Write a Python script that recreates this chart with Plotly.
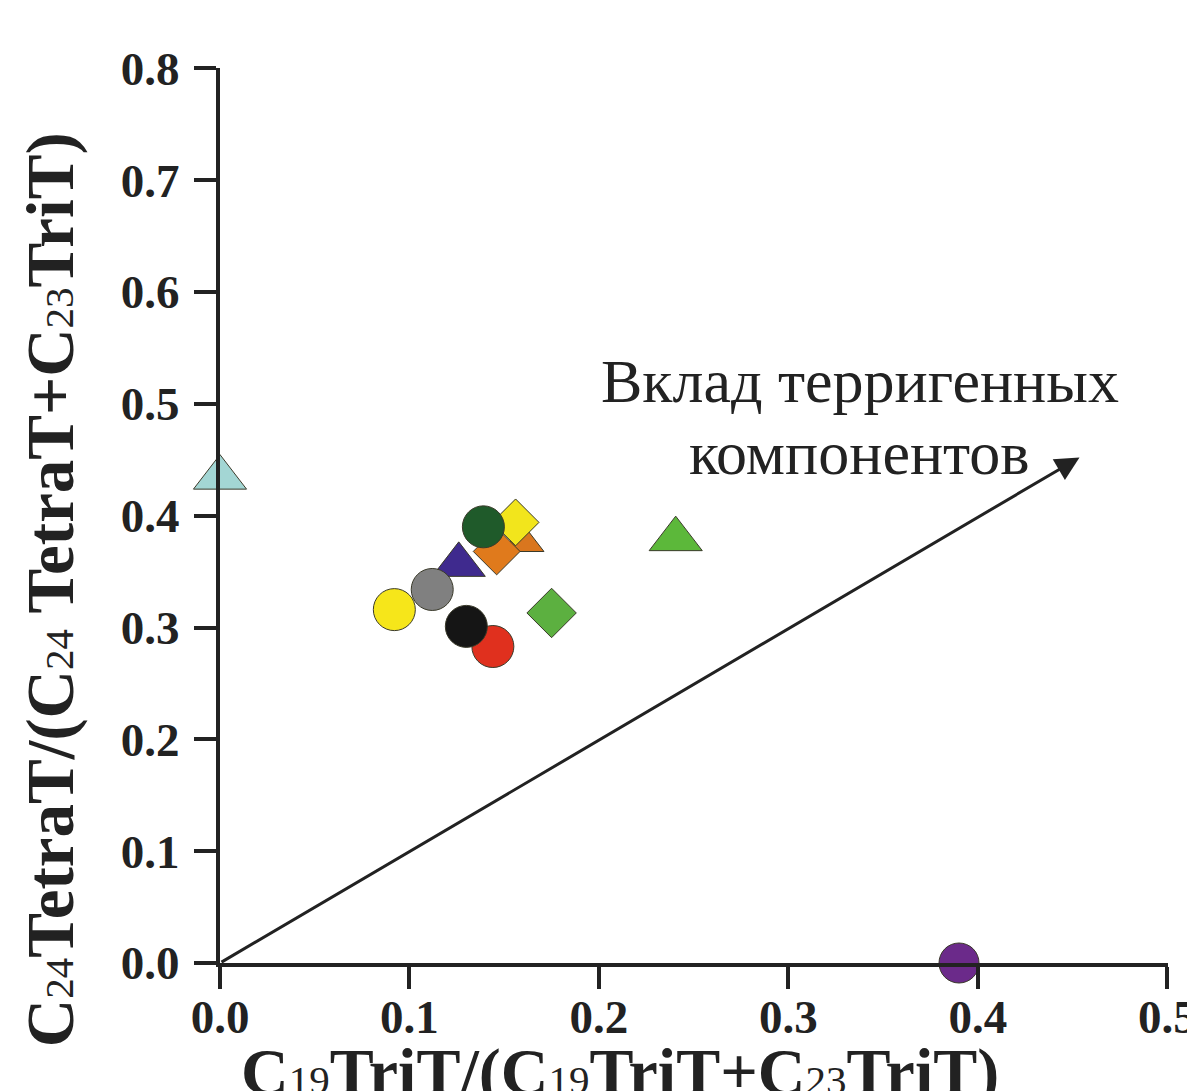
import plotly.graph_objects as go

# Sample ratios: C19TriT/(C19TriT+C23TriT) vs C24TetraT/(C24TetraT+C23TriT)
x_vals = [0.160, 0.146, 0.156, 0.139, 0.126, 0.092, 0.112, 0.144, 0.130, 0.175, 0.2405, 0.0, 0.390]
y_vals = [0.376, 0.368, 0.394, 0.390, 0.356, 0.316, 0.334, 0.283, 0.301, 0.313, 0.379, 0.434, 0.0]
symbols = ["triangle-up", "diamond", "diamond", "circle", "triangle-up", "circle", "circle",
           "circle", "circle", "diamond", "triangle-up", "triangle-up", "circle"]
colors = ["#d9761e", "#e07a1c", "#f2e51c", "#1f5a2a", "#3f2a8e", "#f6e61a", "#808080",
          "#e0301e", "#151515", "#5cb040", "#5cb83a", "#a3d6d4", "#6b2a8a"]
sizes = [36, 36, 36, 42, 46, 42, 42, 42, 42, 38, 46, 46, 40]

x_ticks = [0.0, 0.1, 0.2, 0.3, 0.4, 0.5]
y_ticks = [0.0, 0.1, 0.2, 0.3, 0.4, 0.5, 0.6, 0.7, 0.8]

arrow_start = (0.0, 0.0)
arrow_end = (0.4536, 0.452)
arrow_lines = ["Вклад терригенных", "компонентов"]

serif = "Liberation Serif, Times New Roman, serif"
ink = "#222222"


def sub(digits):
    # small regular-weight index digits inside the bold axis titles
    return f'<span style="font-size:41px;font-weight:normal">{digits}</span>'


fig = go.Figure()
fig.add_trace(go.Scatter(
    x=x_vals, y=y_vals, mode="markers", cliponaxis=False, showlegend=False,
    marker=dict(symbol=symbols, color=colors, size=sizes, opacity=1,
                line=dict(color="#3a3a2a", width=1)),
))

axis_common = dict(
    showgrid=False, zeroline=False, showline=True, linecolor=ink, linewidth=4,
    ticks="outside", ticklen=22, tickwidth=4, tickcolor=ink, automargin=False,
    tickfont=dict(family=serif, size=47, color=ink, weight="bold"),
)
fig.update_xaxes(range=[0, 0.5003], tickvals=x_ticks, ticklabeloverflow="allow",
                 ticktext=[f"{v:.1f}" for v in x_ticks], ticklabelstandoff=-12, **axis_common)
fig.update_yaxes(range=[0, 0.8003], tickvals=y_ticks, ticklabelstandoff=5,
                 ticktext=[f"{v:.1f}" for v in y_ticks], **axis_common)

# Arrow showing the terrigenous contribution trend
fig.add_annotation(x=arrow_end[0], y=arrow_end[1], ax=arrow_start[0], ay=arrow_start[1],
                   xref="x", yref="y", axref="x", ayref="y", text="", showarrow=True,
                   arrowhead=2, arrowsize=1.6, arrowwidth=3, arrowcolor=ink)
for line, ly in zip(arrow_lines, [0.52, 0.456]):
    fig.add_annotation(x=0.3376, y=ly, xref="x", yref="y", text=line, showarrow=False,
                       font=dict(family=serif, size=62, color=ink), align="center")

# Axis titles
fig.add_annotation(x=0.422, y=-0.078, xref="paper", yref="paper", yanchor="top",
                   xanchor="center", showarrow=False,
                   text=f"C{sub('19')}TriT/(C{sub('19')}TriT+C{sub('23')}TriT)",
                   font=dict(family=serif, size=66, color=ink, weight="bold"))
fig.add_annotation(x=-0.178, y=0.4168, xref="paper", yref="paper", xanchor="center",
                   yanchor="middle", textangle=-90, showarrow=False,
                   text=f"C{sub('24')}TetraT/(C{sub('24')} TetraT+C{sub('23')}TriT)",
                   font=dict(family=serif, size=67, color=ink, weight="bold"))

fig.update_layout(
    width=1187, height=1091, margin=dict(l=220, r=19, t=68, b=128),
    paper_bgcolor="white", plot_bgcolor="white",
)

fig.write_html("out.html")
